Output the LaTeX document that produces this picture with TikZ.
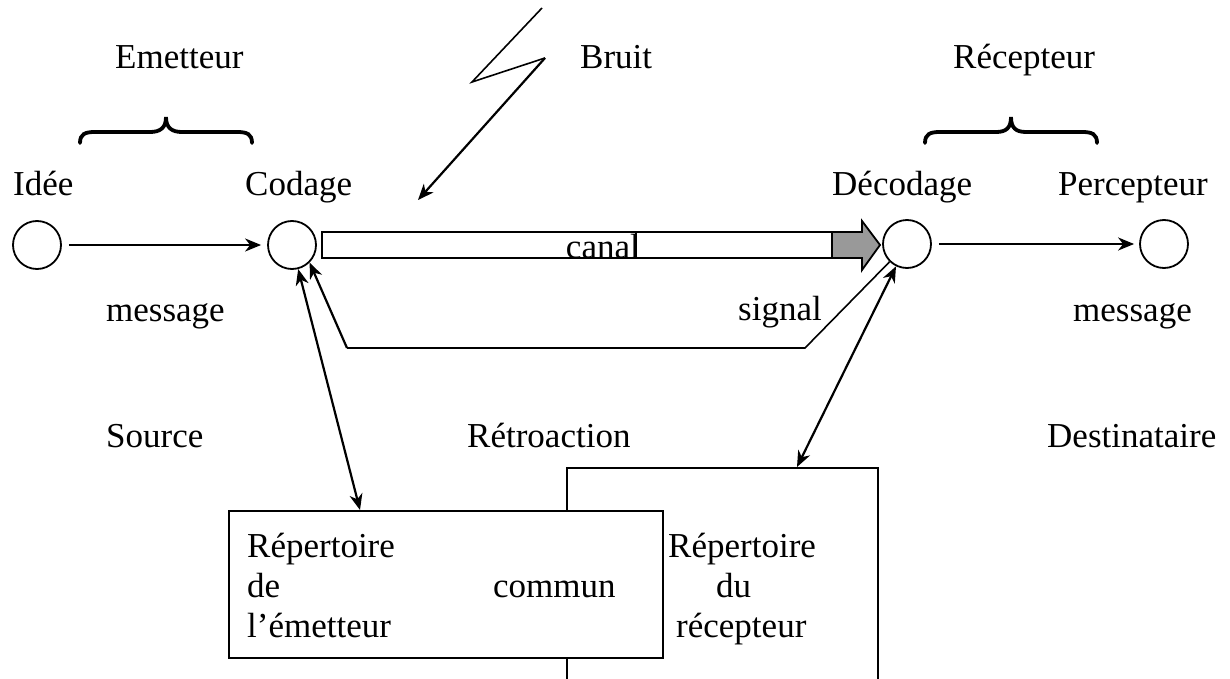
\documentclass[tikz,border=0pt]{standalone}
\usepackage{fontspec}
\setmainfont{Liberation Serif}
\usetikzlibrary{arrows.meta}
\begin{document}
\begin{tikzpicture}[x=1pt,y=-1pt,
  lbl/.style={inner sep=0pt, anchor=base west, font=\fontsize{35}{42}\selectfont},
  pt/.style={circle, draw, line width=1.8pt, minimum size=48pt, inner sep=0pt},
  arr/.style={line width=2.2pt, -{Stealth[length=16pt,width=13pt,inset=5pt]}},
  darr/.style={line width=2.2pt, {Stealth[length=16pt,width=13pt,inset=5pt]}-{Stealth[length=16pt,width=13pt,inset=5pt]}},
  thinline/.style={line width=1.6pt},
  bracest/.style={line width=3.8pt, line cap=round},
  boxst/.style={draw, line width=1.8pt, fill=white, inner sep=0pt, anchor=north west}
]
\useasboundingbox (0,0) rectangle (1230,679);
\clip (0,0) rectangle (1230,679);
\fill[white] (0,0) rectangle (1230,679);

% top labels
\node[lbl] (emet) at (115,69) {Emetteur};
\node[lbl] (bruit) at (580,69) {Bruit};
\node[lbl] (recep) at (953,69) {Récepteur};

% braces
\draw[bracest] (80,143) .. controls (80,134) and (85,132) .. (95,132) -- (150,132)
  .. controls (160,132) and (166,128) .. (166,117)
  .. controls (166,128) and (172,132) .. (182,132) -- (237,132)
  .. controls (247,132) and (252,134) .. (252,143);
\draw[bracest] (925,143) .. controls (925,134) and (930,132) .. (940,132) -- (996,132)
  .. controls (1006,132) and (1011,128) .. (1011,117)
  .. controls (1011,128) and (1016,132) .. (1026,132) -- (1082,132)
  .. controls (1092,132) and (1097,134) .. (1097,143);

% node labels
\node[lbl] (lidee) at (13,195) {Idée};
\node[lbl] (lcod) at (245,195) {Codage};
\node[lbl] (ldec) at (832,195) {Décodage};
\node[lbl] (lperc) at (1058,195) {Percepteur};

% circles
\node[pt] (idee) at (37,245) {};
\node[pt] (codage) at (292,245) {};
\node[pt] (decodage) at (907,244) {};
\node[pt] (percep) at (1164,244) {};

\draw[arr, shorten <=7pt, shorten >=6pt] (idee) -- (codage);
\draw[arr, shorten <=7pt, shorten >=5pt] (decodage) -- (percep);

% canal arrow
\draw[line width=1.8pt, line join=miter, fill=black!40] (322,232) -- (862,232) -- (862,221) -- (880,245) -- (862,270) -- (862,258) -- (322,258) -- cycle;
\draw[line width=1.8pt, fill=white] (322,232) rectangle (832,258);
\node[lbl, anchor=base east] (canal) at (640,258) {canal};
\fill[white] (637,234) rectangle (650,256);
\draw[line width=1.8pt] (636,232) -- (636,258);

% lightning
\coordinate (l1) at (542,8);
\coordinate (l2) at (472,82);
\coordinate (l3) at (545,58);
\coordinate (l4) at (418,200);
\draw[thinline, line join=miter] (l1) -- (l2) -- (l3);
\draw[arr] (l3) -- (l4);

% middle labels
\node[lbl] (msg1) at (106,321) {message};
\node[lbl] (sig) at (738,320) {signal};
\node[lbl] (msg2) at (1073,321) {message};
\node[lbl] (src) at (106,447) {Source};
\node[lbl] (retro) at (467,447) {Rétroaction};
\node[lbl] (dest) at (1047,447) {Destinataire};

% feedback
\coordinate (fb1) at (805,348);
\coordinate (fb2) at (347,348);
\draw[thinline] (decodage) -- (fb1) -- (fb2);
\draw[arr] (fb2) -- (codage.-45);

% boxes
\node[boxst, minimum width=311pt, minimum height=240pt] (rbox) at (566,467) {};
\node[boxst, minimum width=434pt, minimum height=147pt] (lbox) at (228,510) {};
\coordinate (lboxin) at (360,510);
\coordinate (rboxin) at (797,467);
\draw[darr] (codage) -- (lboxin);
\draw[darr] (decodage) -- (rboxin);

% box texts
\node[lbl] (t1) at (247,557) {Répertoire};
\node[lbl] (t2) at (247,597) {de};
\node[lbl] (t3) at (493,597) {commun};
\node[lbl] (t4) at (247,637) {l’émetteur};
\node[lbl] (t5) at (668,557) {Répertoire};
\node[lbl] (t6) at (716,597) {du};
\node[lbl] (t7) at (676,637) {récepteur};
\end{tikzpicture}
\end{document}
